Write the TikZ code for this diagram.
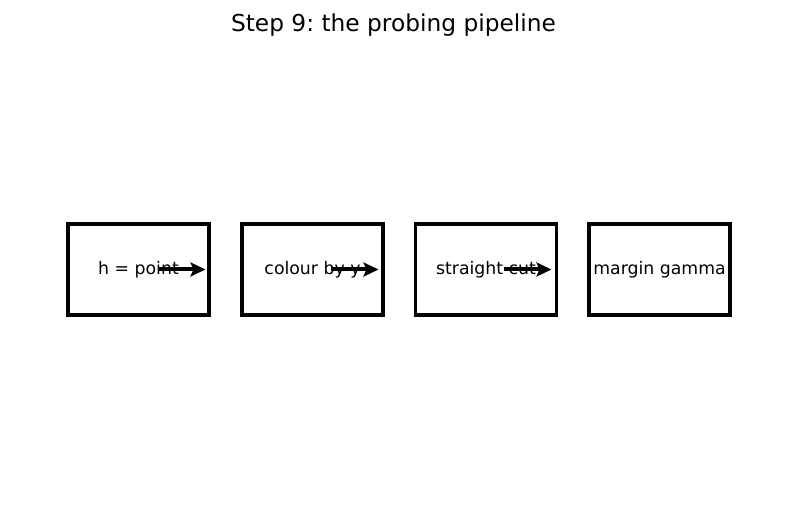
\documentclass[tikz,border=0pt]{standalone}
\usepackage{fontspec}
\setmainfont{DejaVu Sans}
\usetikzlibrary{arrows.meta}
\frenchspacing
\begin{document}
\begin{tikzpicture}[x=1pt,y=-1pt,
  stagebox/.style={draw=black,line width=3.5pt,minimum width=141pt,minimum height=91pt,inner sep=0pt,font=\fontsize{17.3}{20}\selectfont},
  flow/.style={line width=4pt,-{Stealth[length=15pt,width=14pt,inset=3pt]}}]
\useasboundingbox (0,0) rectangle (787,510);
\node[font=\fontsize{23.3}{27}\selectfont] (title) at (393.5,25.5) {Step 9: the probing pipeline};
\node[stagebox] (b1) at (138.5,269.5) {\raisebox{-1pt}{h = point}};
\node[stagebox] (b2) at (312.5,269.5) {\raisebox{-1pt}{colour by y}};
\node[stagebox] (b3) at (486,269.5) {\raisebox{-1pt}{straight cut}};
\node[stagebox] (b4) at (659.5,269.5) {\raisebox{-1pt}{margin gamma}};
\coordinate (s1) at ([xshift=19.5pt]b1.center);
\coordinate (e1) at ([xshift=67pt]b1.center);
\coordinate (s2) at ([xshift=18.5pt]b2.center);
\coordinate (e2) at ([xshift=66pt]b2.center);
\coordinate (s3) at ([xshift=18pt]b3.center);
\coordinate (e3) at ([xshift=65.5pt]b3.center);
\draw[flow] (s1) -- (e1);
\draw[flow] (s2) -- (e2);
\draw[flow] (s3) -- (e3);
\end{tikzpicture}
\end{document}
